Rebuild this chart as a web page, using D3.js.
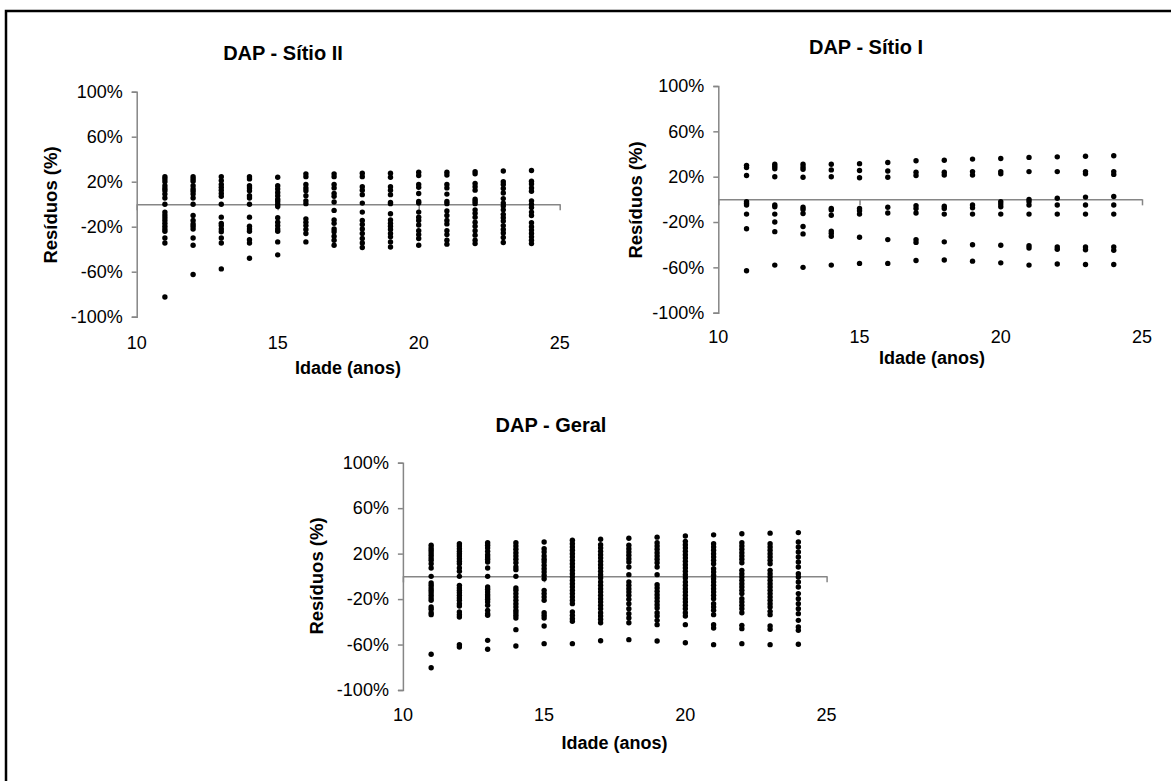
<!DOCTYPE html>
<html>
<head>
<meta charset="utf-8">
<script src="https://cdn.jsdelivr.net/npm/d3@7"></script>
<style>
body{margin:0;background:#fff;}
svg{display:block;font-family:"Liberation Sans",Arial,sans-serif;}
</style>
</head>
<body>
<svg id="chart" width="1171" height="781"></svg>
<script>
// idade (anos) - one column of residuals per age
const idades=[11,12,13,14,15,16,17,18,19,20,21,22,23,24]
const xTicks=[10,15,20,25]
const yTicks=[100,60,20,-20,-60,-100]

// DAP - Sitio II residuals (%)
const sitio2=[
 [24.5,22.5,20,16.5,14,12,9,5.5,0,-7,-9.5,-12,-14.5,-17,-19.5,-22,-24,-30,-34.5,-82.5],
 [24.5,22.5,20.5,16.5,13.5,11.5,9,5.5,0,-10,-14.5,-17.5,-19.5,-22,-30,-36.5,-62.5],
 [24.5,21,17.5,15,12.5,9.5,7,0,-11.5,-17,-19,-22,-24.5,-30,-34.5,-57.5],
 [24.5,22.5,16.5,14.5,12,7.5,5.5,0,-11.5,-19.5,-22,-24,-31.5,-34.5,-48],
 [24,16.5,13.5,10.5,7.5,4.5,2.5,0,-2,-12,-16,-19,-22,-24,-33.5,-45],
 [27,24.5,17.5,14.5,12,7.5,3,0.5,-13,-16,-19,-22.5,-26,-33.5],
 [27,24.5,17.5,14.5,9.5,7,2,-5.5,-14,-17,-22,-24.5,-28.5,-32,-36.5],
 [27.5,24.5,15.5,12.5,8.5,1,-7,-14.5,-18,-22,-26,-30.5,-34.5,-38.5],
 [27.5,24,15.5,12.5,8.5,1.5,0.5,-8.5,-14,-17,-19.5,-22.5,-26,-29,-33.5,-38],
 [28.5,25.5,17.5,15,9.5,2.5,1,-7,-11.5,-14.5,-18.5,-23.5,-27,-30.5,-36.5],
 [28.5,26,17.5,14.5,9,2.5,0.5,-6,-10,-14.5,-17.5,-23.5,-27,-32,-35.5],
 [29,27,18.5,15.5,12.5,4.5,2.5,0.5,-5,-8,-11.5,-16,-19.5,-23.5,-27.5,-32,-35],
 [29.5,20,17.5,14,10,5,1,-1.5,-5,-9,-12,-15,-19,-22.5,-25.5,-29.5,-34],
 [30,20.5,18,14.5,11.5,3,0,-3,-7,-10,-16.5,-20,-23,-26,-29,-32,-35]
]

// DAP - Sitio I residuals (%)
const sitio1=[
 [30,28,21,-2,-3.5,-5,-13,-26,-63],
 [31,29,27,20,-5,-6.5,-13,-20,-28.5,-58],
 [31,28.5,26.5,19.5,-7,-9,-12.5,-24,-30.5,-60],
 [31,26,20,-8,-9.5,-14,-28,-30,-32.5,-58],
 [31.5,25.5,19,-8,-10,-13,-33.5,-56.5],
 [32.5,25,19.5,-7,-12,-35.5,-56.5],
 [34,24,21,-5.5,-8,-12,-35.5,-38,-54],
 [34.5,24,21.5,-6,-8,-13,-37.5,-53.5],
 [35.5,24.5,21.5,-5,-7.5,-13,-40,-54.5],
 [36,24.5,22.5,-2,-4,-6.5,-13,-40.5,-56],
 [37,24.5,0,-2,-5,-13,-41,-43,-58],
 [37.5,24.5,1,-5,-13,-42,-44,-57],
 [38,24.5,22.5,2,-5,-13,-42,-44.5,-57.5],
 [38.5,24.5,22,2.5,-5,-13,-42,-45,-57.5]
]

// DAP - Geral residuals (%)
const geral=[
 [27.3,24.9,22.9,20.8,18.5,16.1,14.1,11.1,7.3,0,-5.9,-7.9,-10.3,-12.3,-14.4,-16.7,-19.1,-21.1,-27,-29,-32,-33.7,-68.6,-80.4],
 [28.7,26.7,24.3,22,19.9,17.9,15.5,13.2,11.1,7.3,4.4,0,-7.9,-10.3,-12.3,-14.4,-16.7,-19.1,-21.1,-24,-26.1,-31.4,-33.7,-35.8,-60.1,-62.2],
 [29.6,27.3,24.9,22,19.1,17,15,12.6,7.3,0,-9.4,-11.4,-13.8,-16.1,-18.2,-20.2,-22.6,-25.5,-29.9,-32.8,-34.3,-56.3,-64.2],
 [29.6,26.7,23.8,20.8,17.9,15,12,8.2,5.9,0,-10.3,-12.3,-15.2,-18.2,-21.1,-24,-27,-29.9,-32,-34.3,-36.7,-46.9,-61.3],
 [30.2,24.3,21.4,17.9,15,12.6,9.7,6.7,3.8,0.9,-2.1,-12.3,-15.2,-18.2,-21.1,-32,-34.3,-36.7,-43.7,-59.2],
 [31.7,28.7,25.8,22.9,19.9,17,14.1,11.1,8.2,5.3,2.3,-0.6,-3.5,-6.5,-9.4,-12.3,-15.2,-18.2,-21.1,-24,-31.4,-34.3,-37.2,-39.6,-59.2],
 [32.6,27.9,24.9,22,19.1,16.1,13.2,10.3,7.3,4.4,1.5,-1.5,-5,-7.9,-10.9,-13.8,-16.7,-19.6,-22.6,-25.5,-28.4,-32,-34.9,-37.8,-40.8,-56.6],
 [33.5,27.3,24.3,21.4,18.5,15.5,12.6,8.2,1.5,-5,-7.9,-10.9,-13.8,-16.7,-20.2,-24,-28.4,-32.8,-36.7,-40.8,-55.7],
 [34.5,29.6,26.7,23.8,20.8,17.9,15,12,8.2,1.5,-7.3,-10.3,-13.2,-16.1,-19.1,-22,-24.9,-27.9,-32,-34.9,-38.7,-42.5,-56.9],
 [35.5,30.8,27.9,24.9,22,19.1,16.1,13.2,10.3,7.3,4.4,1.5,-1.5,-5,-7.9,-10.9,-13.8,-16.7,-19.6,-22.6,-25.5,-28.4,-32,-34.9,-42.5,-58.4],
 [36.5,28.7,25.8,22.9,19.9,17,14.1,11.1,6.7,3.8,0.9,-2.1,-5,-7.9,-10.9,-13.8,-16.7,-19.6,-24,-27,-29.9,-33.7,-42.5,-45.5,-60.1],
 [37.5,29.6,26.7,23.8,20.8,17.9,15,12,5.3,2.3,-0.6,-3.5,-6.5,-9.4,-12.3,-15.2,-19.6,-22.6,-25.5,-28.4,-32,-43.1,-46,-59.2],
 [38,28.7,25.8,22.9,19.9,17,14.1,11.1,5.3,2.3,-0.6,-3.5,-6.5,-9.4,-12.3,-15.2,-18.2,-21.1,-24,-27,-30.8,-33.7,-43.7,-46.6,-60.1],
 [38.5,30.2,25.8,21.4,17,12.6,8.2,2.3,-0.6,-5,-9.4,-15.2,-19.6,-24,-28.4,-32.8,-38.7,-44.6,-47.5,-59.8]
]

const svg=d3.select("#chart")
const grey="#868686"

// frame round the figure
svg.append("path").attr("d","M6,781V11H1171").attr("fill","none").attr("stroke","#000").attr("stroke-width",2.5)

const panels=[
 {title:"DAP - Sítio II",data:sitio2,xr:[136.7,559.7],yr:[316.7,91.7],tc:[283,52.5],xl:343,xt:[348,368],yt:[50,205]},
 {title:"DAP - Sítio I",data:sitio1,xr:[718.3,1142],yr:[312.7,86],tc:[866,46.5],xl:336.7,xt:[932,358],yt:[635,200]},
 {title:"DAP - Geral",data:geral,xr:[402.9,826.6],yr:[690,462.7],tc:[551,425],xl:715,xt:[614.6,743],yt:[316,576]}
]

function draw(p){
 const x=d3.scaleLinear().domain([10,25]).range(p.xr)
 const y=d3.scaleLinear().domain([-100,100]).range(p.yr)
 const g=svg.append("g")

 // y axis
 const ya=g.append("g").attr("transform",`translate(${p.xr[0]},0)`)
  .call(d3.axisLeft(y).tickValues(yTicks).tickSize(5).tickPadding(9).tickFormat(d=>d+"%"))
 ya.select(".domain").attr("stroke",grey).attr("stroke-width",1.5)
 ya.selectAll(".tick line").attr("stroke",grey).attr("stroke-width",1.5)
 ya.selectAll("text").attr("font-size",18).attr("fill","#000").attr("font-family",null)

 // x axis crossing at zero
 const xa=g.append("g").attr("transform",`translate(0,${y(0)})`)
  .call(d3.axisBottom(x).tickValues(xTicks).tickSize(6).tickSizeOuter(0).tickFormat(""))
 xa.select(".domain").attr("stroke",grey).attr("stroke-width",1.5)
 xa.selectAll(".tick line").attr("stroke",grey).attr("stroke-width",1.5)

 // x tick labels sit low, under the plot
 g.selectAll(".xlab").data(xTicks).join("text")
  .attr("x",d=>x(d)).attr("y",p.xl).attr("dy","0.36em")
  .attr("text-anchor","middle").attr("font-size",18).text(d=>d)

 // points
 const pts=[]
 p.data.forEach((col,i)=>col.forEach(v=>pts.push([idades[i],v])))
 g.selectAll("circle").data(pts).join("circle")
  .attr("cx",d=>x(d[0])).attr("cy",d=>y(d[1])).attr("r",2.7).attr("fill","#000")

 g.append("text").attr("x",p.tc[0]).attr("y",p.tc[1]).attr("dy","0.36em")
  .attr("text-anchor","middle").attr("font-size",20).attr("font-weight","bold").text(p.title)
 g.append("text").attr("x",p.xt[0]).attr("y",p.xt[1]).attr("dy","0.36em")
  .attr("text-anchor","middle").attr("font-size",18).attr("font-weight","bold").text("Idade (anos)")
 g.append("text").attr("transform",`translate(${p.yt[0]},${p.yt[1]}) rotate(-90)`).attr("dy","0.36em")
  .attr("text-anchor","middle").attr("font-size",18.5).attr("font-weight","bold").text("Resíduos (%)")
}
panels.forEach(draw)
</script>
</body>
</html>
